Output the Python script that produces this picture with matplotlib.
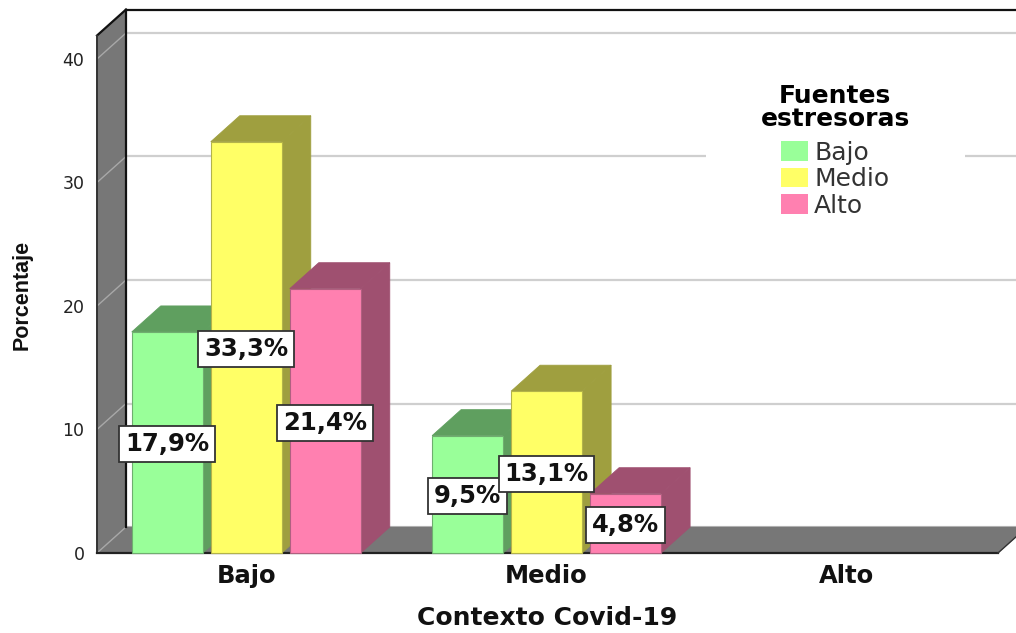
import matplotlib
matplotlib.use("Agg")
import matplotlib.pyplot as plt
from matplotlib.patches import Patch, Polygon, Rectangle

categories = ["Bajo", "Medio", "Alto"]
series_names = ["Bajo", "Medio", "Alto"]
bajo_values = [17.9, 9.5, 0]
medio_values = [33.3, 13.1, 0]
alto_values = [21.4, 4.8, 0]
y_ticks = [0, 10, 20, 30, 40]

front_colors = ["#99ff99", "#ffff66", "#ff80b0"]
side_colors = ["#5f9f5f", "#9f9f3f", "#9f5070"]
edge_colors = ["#6fae6f", "#b3b34a", "#b06080"]

WALL = "#777777"
GRID = "#cfcfcf"
W, H = 1016, 633
PX_X = 901 / 3      # pixels per category
PX_Y = 494 / 40     # pixels per percent
DX = 29 / PX_X      # depth of the 3D box
DY = 26 / PX_Y
BAR_W = 71 / PX_X
BAR_STEP = 79 / PX_X
Y_TOP = 41.9
X0, X1 = -0.497, 2.503


def draw_bar(ax, x, value, i):
    left = x - BAR_W / 2
    right = x + BAR_W / 2
    ax.add_patch(Polygon(
        [(right, 0), (right + DX, DY), (right + DX, value + DY), (right, value)],
        facecolor=side_colors[i], edgecolor=side_colors[i], lw=0.6, zorder=4, clip_on=False
    ))
    ax.add_patch(Polygon(
        [(left, value), (left + DX, value + DY), (right + DX, value + DY), (right, value)],
        facecolor=side_colors[i], edgecolor=side_colors[i], lw=0.6, zorder=4, clip_on=False
    ))
    ax.add_patch(Rectangle(
        (left, 0), BAR_W, value,
        facecolor=front_colors[i], edgecolor=edge_colors[i], lw=0.8, zorder=4, clip_on=False
    ))


def draw_line(ax, xs, ys, color, lw, zorder=3):
    ax.plot(xs, ys, color=color, lw=lw, zorder=zorder, clip_on=False)


def draw_box(ax):
    # floor and left wall
    ax.add_patch(Polygon(
        [(X0, 0), (X0 + DX, DY), (X1 + DX, DY), (X1, 0)],
        facecolor=WALL, edgecolor=WALL, lw=0.5, zorder=2, clip_on=False
    ))
    ax.add_patch(Polygon(
        [(X0, 0), (X0 + DX, DY), (X0 + DX, Y_TOP + DY), (X0, Y_TOP)],
        facecolor=WALL, edgecolor=WALL, lw=0.5, zorder=2, clip_on=False
    ))

    for t in y_ticks:
        draw_line(ax, [X0 + DX, X1 + DX], [t + DY, t + DY], GRID, 1.6, zorder=1)
        draw_line(ax, [X0, X0 + DX], [t, t + DY], "#a8a8a8", 1.0)

    draw_line(ax, [X0 + DX, X0 + DX], [DY, Y_TOP + DY], "#111111", 1.6)
    draw_line(ax, [X0, X0 + DX], [Y_TOP, Y_TOP + DY], "#111111", 1.6)
    draw_line(ax, [X0 + DX, X1 + DX], [Y_TOP + DY, Y_TOP + DY], "#111111", 1.6)
    draw_line(ax, [X0, X0], [0, Y_TOP], "#333333", 1.4)
    draw_line(ax, [X0, X1], [0, 0], "#222222", 1.6)
    draw_line(ax, [X1, X1 + DX], [0, DY], "#333333", 1.0)


fig = plt.figure(figsize=(W / 100, H / 100), dpi=100, facecolor="white")
ax = fig.add_axes([97 / W, 1 - 553 / H, 901 / W, 494 / H])
ax.set_xlim(X0, X1)
ax.set_ylim(0, 40)
ax.patch.set_visible(False)
for s in ax.spines.values():
    s.set_visible(False)

draw_box(ax)

all_values = [bajo_values, medio_values, alto_values]
for i, values in enumerate(all_values):
    for c, v in enumerate(values):
        if v == 0:
            continue
        x = c + (i - 1) * BAR_STEP
        draw_bar(ax, x, v, i)

# value boxes go on top of all the bars
for i, values in enumerate(all_values):
    for c, v in enumerate(values):
        if v == 0:
            continue
        x = c + (i - 1) * BAR_STEP
        ax.text(
            x, v / 2 - 0.15, f"{v:.1f}%".replace(".", ","),
            ha="center", va="center", fontsize=17.5, fontweight="bold",
            family="DejaVu Sans", color="#111111", zorder=6, clip_on=False,
            bbox=dict(boxstyle="square,pad=0.24", facecolor="white",
                      edgecolor="#333333", lw=1.3)
        )

ax.set_xticks(range(len(categories)))
ax.set_xticklabels(categories, fontsize=17.5, fontweight="bold", family="DejaVu Sans", color="#111111")
ax.set_yticks(y_ticks)
ax.set_yticklabels([str(t) for t in y_ticks], fontsize=12.5, family="DejaVu Sans", color="#222222")
ax.tick_params(axis="x", length=0, pad=8)
ax.tick_params(axis="y", length=0, pad=9)

fig.text(547 / W, 1 - 618 / H, "Contexto Covid-19", ha="center", va="center",
         fontsize=18, fontweight="bold", family="DejaVu Sans", color="#111111")
fig.text(22 / W, 1 - 295 / H, "Porcentaje", ha="center", va="center", rotation=90,
         fontsize=15.5, fontweight="bold",
         family=["Liberation Sans Narrow", "Liberation Sans"], color="#111111")

# white panel behind the legend hides the 30 gridline
fig.add_artist(Rectangle((706 / W, 1 - 225 / H), 259 / W, 150 / H,
                         transform=fig.transFigure, facecolor="white",
                         edgecolor="none", zorder=5))

handles = [Patch(facecolor=c, edgecolor="none", label=n)
           for c, n in zip(front_colors, series_names)]
leg = fig.legend(
    handles=handles, title="Fuentes\nestresoras", frameon=False,
    loc="center", bbox_to_anchor=(835 / W, 1 - 151 / H),
    prop={"family": "DejaVu Sans", "size": 18},
    title_fontproperties={"family": "DejaVu Sans", "weight": "bold", "size": 18},
    handlelength=1.08, handleheight=0.82, handletextpad=0.25,
    labelspacing=0.1, borderpad=0, borderaxespad=0
)
leg.set_zorder(7)
leg._legend_box.sep = 7
for t in leg.get_texts():
    t.set_color("#333333")
leg.get_title().set_linespacing(0.95)
leg.get_title().set_multialignment("center")

fig.savefig("out.png", dpi=100)
